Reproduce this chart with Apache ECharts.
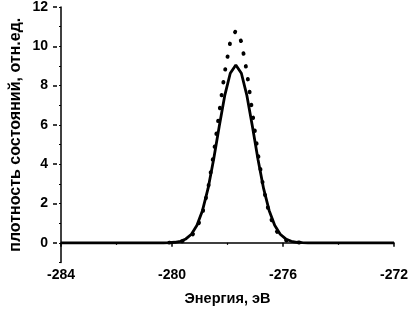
<!DOCTYPE html>
<html>
<head>
<meta charset="utf-8">
<script src="https://cdn.jsdelivr.net/npm/echarts@6/dist/echarts.min.js"></script>
<style>
  html, body { margin: 0; padding: 0; background: #fff; }
  #chart { width: 411px; height: 316px; }
</style>
</head>
<body>
<div id="chart"></div>
<script>
// solid curve, energy in eV and DOS in rel. units
const solidEnergy = [-284, -280.3, -280.1, -279.9, -279.7, -279.5, -279.3, -279.1, -278.9, -278.7, -278.5,
  -278.3, -278.1, -277.9, -277.7, -277.5, -277.3, -277.1, -276.9, -276.7, -276.5, -276.3, -276.1,
  -275.9, -275.7, -275.5, -275.3, -275.1, -272]
const solidDos = [0, 0, 0.01, 0.03, 0.08, 0.2, 0.44, 0.89, 1.65, 2.77, 4.24,
  5.91, 7.49, 8.63, 9.05, 8.63, 7.49, 5.91, 4.24, 2.77, 1.65, 0.89, 0.44,
  0.2, 0.08, 0.03, 0.01, 0, 0]

// dotted curve
const dottedEnergy = [-280.1, -279.9, -279.7, -279.5, -279.3, -279.1, -278.9, -278.7, -278.5, -278.3,
  -278.1, -277.9, -277.7, -277.5, -277.3, -277.1, -276.9, -276.7, -276.5, -276.3, -276.1, -275.9,
  -275.7, -275.5, -275.3]
const dottedDos = [0.01, 0.02, 0.05, 0.13, 0.33, 0.74, 1.51, 2.76, 4.51, 6.6,
  8.68, 10.23, 10.8, 10.23, 8.68, 6.6, 4.51, 2.76, 1.51, 0.74, 0.33, 0.13,
  0.05, 0.02, 0.01]

const xTicks = [-284, -280, -276, -272]
const yTicks = [0, 2, 4, 6, 8, 10, 12]

const chart = echarts.init(document.getElementById('chart'), null, { renderer: 'canvas' })

const fontFamily = '"Liberation Sans", Arial, sans-serif'
const labelFont = { fontFamily: fontFamily, fontWeight: 'bold', fontSize: 14, color: '#000' }
const axisLine = { show: true, lineStyle: { color: '#000', width: 1.5 } }

// grid 0 holds the data, y from -1 to 12; grid 1 starts at y = 0 and carries the major y ticks/labels
const gridTop = 7
const gridBottom = 53.5
const plotH = 316 - gridTop - gridBottom
const zeroBottom = gridBottom + plotH / 13

const option = {
  animation: false,
  backgroundColor: '#fff',
  grid: [
    { left: 57, right: 12, top: gridTop, bottom: gridBottom },
    { left: 57, right: 12, top: gridTop, bottom: zeroBottom }
  ],
  xAxis: [
    {
      type: 'value',
      gridIndex: 0,
      min: xTicks[0],
      max: xTicks[xTicks.length - 1],
      interval: 4,
      name: 'Энергия, эВ',
      nameLocation: 'middle',
      nameGap: 29,
      nameTextStyle: { fontFamily: fontFamily, fontWeight: 'bold', fontSize: 14.5, color: '#000' },
      axisLine: axisLine,
      axisTick: { show: true, length: 4, lineStyle: { color: '#000', width: 1.5 } },
      minorTick: { show: true, splitNumber: 2, length: 2, lineStyle: { color: '#000', width: 1.2 } },
      axisLabel: Object.assign({ margin: 6 }, labelFont),
      splitLine: { show: false }
    },
    {
      type: 'value',
      gridIndex: 1,
      min: xTicks[0],
      max: xTicks[xTicks.length - 1],
      show: false
    }
  ],
  yAxis: [
    {
      type: 'value',
      gridIndex: 0,
      min: -1,
      max: 12,
      interval: 1,
      name: 'плотность состояний, отн.ед.',
      nameLocation: 'middle',
      nameGap: 37,
      nameTextStyle: { fontFamily: fontFamily, fontWeight: 'bold', fontSize: 16, color: '#000' },
      axisLine: axisLine,
      axisTick: { show: true, length: 2, lineStyle: { color: '#000', width: 1.2 } },
      axisLabel: { show: false },
      splitLine: { show: false }
    },
    {
      type: 'value',
      gridIndex: 1,
      min: yTicks[0],
      max: yTicks[yTicks.length - 1],
      interval: 2,
      axisLine: { show: false },
      axisTick: { show: true, length: 4, lineStyle: { color: '#000', width: 1.5 } },
      axisLabel: Object.assign({ margin: 9 }, labelFont),
      splitLine: { show: false }
    }
  ],
  series: [
    {
      name: 'dotted',
      type: 'line',
      xAxisIndex: 0,
      yAxisIndex: 0,
      data: dottedEnergy.map((e, i) => [e, dottedDos[i]]),
      showSymbol: false,
      smooth: false,
      lineStyle: { color: '#000', width: 3.9, type: [0.5, 12.5], cap: 'round' }
    },
    {
      name: 'solid',
      type: 'line',
      xAxisIndex: 0,
      yAxisIndex: 0,
      data: solidEnergy.map((e, i) => [e, solidDos[i]]),
      showSymbol: false,
      smooth: false,
      lineStyle: { color: '#000', width: 2.8 }
    }
  ]
}

chart.setOption(option)
window.addEventListener('resize', () => chart.resize())
</script>
</body>
</html>
